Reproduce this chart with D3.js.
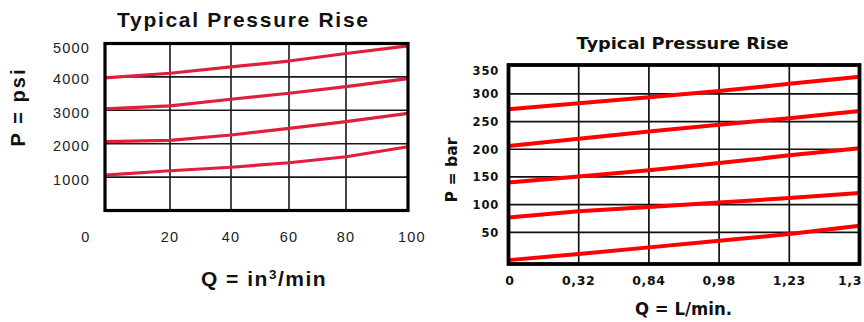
<!DOCTYPE html>
<html>
<head>
<meta charset="utf-8">
<script src="https://cdn.jsdelivr.net/npm/d3@7/dist/d3.min.js"></script>
<style>
  html, body { margin: 0; padding: 0; background: #fff; }
  svg { display: block; }
</style>
</head>
<body>
<svg id="chart" width="864" height="322"></svg>
<script>
// ---------- Data: left chart (psi vs in^3/min) ----------
const psiTitle = "Typical Pressure Rise";
const psiQ = [0, 20, 40, 60, 80, 100];
const psiYTicks = [1000, 2000, 3000, 4000, 5000];
const psiXTicks = [0, 20, 40, 60, 80, 100];
const psiSeries1 = [3970, 4110, 4300, 4475, 4700, 4930];
const psiSeries2 = [3040, 3130, 3330, 3510, 3710, 3950];
const psiSeries3 = [2060, 2100, 2260, 2460, 2660, 2910];
const psiSeries4 = [1060, 1190, 1295, 1430, 1610, 1910];

// ---------- Data: right chart (bar vs L/min) ----------
const barTitle = "Typical Pressure Rise";
const barXLabels = ["0", "0,32", "0,84", "0,98", "1,23", "1,3"];
const barYTicks = [50, 100, 150, 200, 250, 300, 350];
const barSeries1 = [272, 283, 294, 305, 318, 331];
const barSeries2 = [206, 219, 232, 244, 256, 269];
const barSeries3 = [140, 151, 162, 175, 189, 202];
const barSeries4 = [77, 88, 96, 104, 112, 121];
const barSeries5 = [0, 11, 23, 35, 47, 62];

const svg = d3.select("#chart");

// ================= LEFT CHART =================
(function () {
  const g = svg.append("g");
  const x = d3.scaleLinear().domain(psiQ).range([105, 170, 231, 289, 346, 408]);
  const y = d3.scaleLinear().domain([0, 5000]).range([210.5, 43.5]);
  const [x0, x1] = [x(0), x(100)];
  const [yb, yt] = [y(0), y(5000)];
  const font = "Liberation Sans, Arial, sans-serif";

  // grid
  g.selectAll(".hg").data(psiYTicks.filter(v => v < 5000)).join("line")
    .attr("x1", x0).attr("x2", x1).attr("y1", d => y(d)).attr("y2", d => y(d))
    .attr("stroke", "#1a1a1a").attr("stroke-width", 1.6);
  g.selectAll(".vg").data(psiXTicks.filter(v => v > 0 && v < 100)).join("line")
    .attr("x1", d => x(d)).attr("x2", d => x(d)).attr("y1", yt).attr("y2", yb)
    .attr("stroke", "#1a1a1a").attr("stroke-width", 1.6);

  // curves
  const line = d3.line().x((d, i) => x(psiQ[i])).y(d => y(d));
  [psiSeries1, psiSeries2, psiSeries3, psiSeries4].forEach(s => {
    g.append("path").attr("d", line(s)).attr("fill", "none")
      .attr("stroke", "#e01f3d").attr("stroke-width", 3.2).attr("stroke-linejoin", "round");
  });

  // frame
  g.append("rect").attr("x", x0).attr("y", yt).attr("width", x1 - x0).attr("height", yb - yt)
    .attr("fill", "none").attr("stroke", "#000").attr("stroke-width", 3.2);

  // y tick labels
  g.selectAll(".yl").data(psiYTicks).join("text")
    .attr("x", 90).attr("y", d => y(d) + (d === 5000 ? 9 : 7.5))
    .attr("text-anchor", "end")
    .attr("font-family", font).attr("font-size", 14.5)
    .attr("letter-spacing", 1.2).attr("fill", "#222")
    .text(d => d);

  // x tick labels
  g.selectAll(".xl").data(psiXTicks).join("text")
    .attr("x", d => x(d) + (d === 0 ? -19 : d === 100 ? 4 : 0)).attr("y", 242)
    .attr("text-anchor", "middle")
    .attr("font-family", font).attr("font-size", 14.5)
    .attr("letter-spacing", 1.2).attr("fill", "#222")
    .text(d => d);

  // title
  g.append("text").attr("x", 242.5).attr("y", 26.5).attr("text-anchor", "middle")
    .attr("font-family", font).attr("font-weight", "bold")
    .attr("font-size", 21).attr("textLength", 251).attr("lengthAdjust", "spacing")
    .attr("fill", "#111").text(psiTitle);

  // y axis label
  g.append("text").attr("transform", "translate(25,108) rotate(-90)").attr("text-anchor", "middle")
    .attr("font-family", font).attr("font-weight", "bold")
    .attr("font-size", 20).attr("textLength", 77).attr("lengthAdjust", "spacing")
    .attr("fill", "#111").text("P = psi");

  // x axis label
  const xt = g.append("text").attr("x", 264).attr("y", 285.5).attr("text-anchor", "middle")
    .attr("font-family", font).attr("font-weight", "bold")
    .attr("font-size", 21).attr("letter-spacing", 1.5).attr("fill", "#111");
  xt.append("tspan").text("Q = in");
  xt.append("tspan").attr("font-size", 13.5).attr("dy", -7).text("3");
  xt.append("tspan").attr("dy", 7).text("/min");
})();

// ================= RIGHT CHART =================
(function () {
  const g = svg.append("g");
  const x = d3.scalePoint().domain(barXLabels).range([508.5, 859.5]);
  const y = d3.scaleLinear().domain([-7, 352]).range([264, 65]);
  const [x0, x1] = x.range();
  const [yb, yt] = y.range();
  const font = "DejaVu Sans, Verdana, sans-serif";

  g.selectAll(".hg").data(barYTicks.filter(v => v < 350)).join("line")
    .attr("x1", x0).attr("x2", x1).attr("y1", d => y(d)).attr("y2", d => y(d))
    .attr("stroke", "#111").attr("stroke-width", 1.7);
  g.selectAll(".vg").data(barXLabels.slice(1, -1)).join("line")
    .attr("x1", d => x(d)).attr("x2", d => x(d)).attr("y1", yt).attr("y2", yb)
    .attr("stroke", "#111").attr("stroke-width", 1.7);

  const line = d3.line().x((d, i) => x(barXLabels[i])).y(d => y(d));
  [barSeries1, barSeries2, barSeries3, barSeries4, barSeries5].forEach(s => {
    g.append("path").attr("d", line(s)).attr("fill", "none")
      .attr("stroke", "#ff0000").attr("stroke-width", 4);
  });

  g.append("rect").attr("x", x0).attr("y", yt).attr("width", x1 - x0).attr("height", yb - yt)
    .attr("fill", "none").attr("stroke", "#000").attr("stroke-width", 3.8);

  g.selectAll(".yl").data(barYTicks).join("text")
    .attr("x", 499).attr("y", d => y(d) + (d === 350 ? 8.5 : 4.5))
    .attr("text-anchor", "end").attr("font-family", font).attr("font-weight", "bold")
    .attr("font-size", 11.5).attr("letter-spacing", 0.8).attr("fill", "#111")
    .text(d => d);

  g.selectAll(".xl").data(barXLabels).join("text")
    .attr("x", (d, i) => i === barXLabels.length - 1 ? 862 : x(d) + (i === 0 ? 1.5 : 0))
    .attr("y", 285)
    .attr("text-anchor", (d, i) => i === barXLabels.length - 1 ? "end" : "middle")
    .attr("font-family", font).attr("font-weight", "bold")
    .attr("font-size", 12.5).attr("letter-spacing", 0.6).attr("fill", "#111")
    .text(d => d);

  g.append("text").attr("x", 682.5).attr("y", 49.3).attr("text-anchor", "middle")
    .attr("font-family", font).attr("font-weight", "bold")
    .attr("font-size", 16).attr("textLength", 212).attr("lengthAdjust", "spacingAndGlyphs")
    .attr("fill", "#111").text(barTitle);

  g.append("text").attr("transform", "translate(457,170) rotate(-90)").attr("text-anchor", "middle")
    .attr("font-family", font).attr("font-weight", "bold")
    .attr("font-size", 15).attr("textLength", 65).attr("lengthAdjust", "spacingAndGlyphs")
    .attr("fill", "#111").text("P = bar");

  g.append("text").attr("x", 683.5).attr("y", 315).attr("text-anchor", "middle")
    .attr("font-family", font).attr("font-weight", "bold")
    .attr("font-size", 17).attr("textLength", 97).attr("lengthAdjust", "spacingAndGlyphs")
    .attr("fill", "#111").text("Q = L/min.");
})();
</script>
</body>
</html>
